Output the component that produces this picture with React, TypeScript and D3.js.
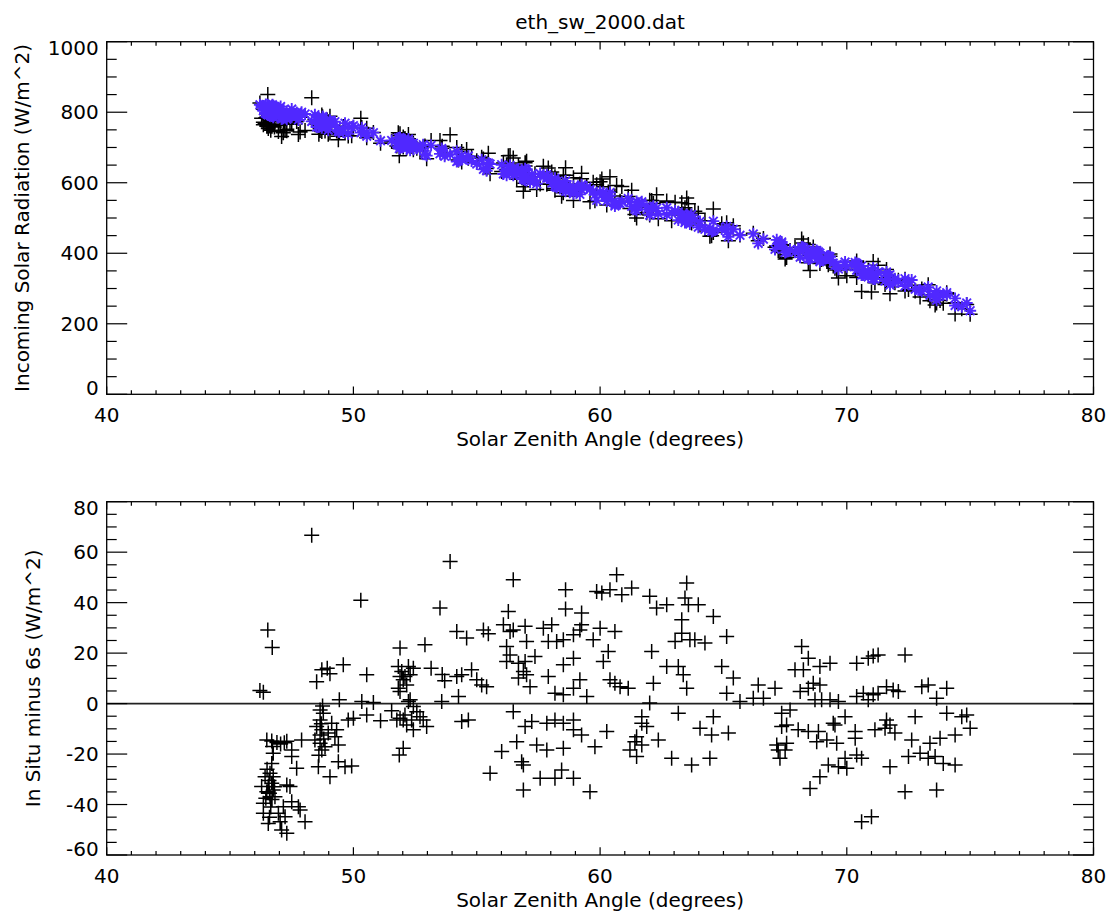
import React from "react";
import * as d3 from "d3";

// Solar zenith angle (degrees) of each matched sample
const sza: number[] = [
  46.21,46.35,46.53,46.71,46.49,46.69,46.90,47.05,47.30,47.50,
  47.50,47.70,46.75,46.69,46.62,46.75,46.42,46.28,46.55,46.75,
  46.62,46.35,46.82,46.49,46.69,47.30,47.43,47.50,47.77,47.84,
  46.55,47.03,47.09,47.30,47.23,48.04,46.96,46.35,47.16,47.90,
  46.60,46.70,46.45,46.80,46.58,46.65,46.50,46.72,47.20,46.60,
  48.31,50.30,48.51,48.72,48.94,49.05,49.59,50.54,49.43,50.34,
  50.81,48.65,48.78,48.65,48.51,48.72,48.65,48.44,48.65,48.72,
  48.85,48.58,48.98,49.12,49.32,49.25,49.39,49.05,49.39,49.66,
  49.93,50.54,50.00,49.79,48.70,48.60,48.80,48.75,
  51.10,51.55,51.76,52.02,51.86,52.02,51.89,51.82,51.96,52.09,
  52.30,52.23,52.02,52.43,51.89,52.16,51.82,51.89,52.30,52.23,
  52.43,52.57,52.70,52.83,52.97,52.43,52.16,52.09,51.89,52.36,
  52.90,53.15,53.60,53.70,53.58,53.92,53.51,
  54.19,54.59,55.27,55.47,54.19,54.26,54.79,55.00,55.20,55.40,
  54.39,54.39,54.66,56.48,56.28,56.08,56.35,56.48,56.96,57.02,
  56.21,56.35,56.21,56.69,56.96,57.36,56.89,57.02,56.69,57.16,
  57.70,58.04,57.90,58.24,58.51,58.60,58.60,57.90,58.51,58.17,
  58.51,56.48,56.96,57.23,57.84,58.17,58.51,56.62,56.01,57.43,
  57.84,58.51,56.82,56.89,55.54,56.89,57.57,58.17,58.44,
  59.25,59.18,58.92,59.86,60.07,60.40,60.67,60.88,61.28,60.00,
  60.60,59.72,60.33,60.13,58.92,59.18,58.92,59.46,60.40,60.81,
  61.14,60.60,59.25,58.92,58.92,59.25,60.27,59.79,58.92,59.59,
  62.01,62.29,62.70,63.51,63.44,63.58,63.98,64.59,63.31,63.31,
  63.04,63.64,63.84,64.25,62.09,62.70,63.17,63.37,63.51,62.16,
  62.01,61.69,61.89,61.48,61.41,61.21,61.48,61.69,61.69,62.36,
  63.17,64.59,64.05,64.52,62.90,63.71,64.45,64.93,65.13,65.13,
  65.20,65.40,65.67,
  66.21,66.41,66.62,67.09,68.17,68.44,67.90,68.24,68.91,69.32,
  68.11,68.44,68.64,68.91,68.71,68.98,69.32,69.66,67.36,67.70,
  67.36,67.56,68.03,68.44,68.85,69.19,69.59,67.16,67.56,67.22,
  67.50,67.29,68.78,69.52,69.93,69.45,69.25,69.66,69.93,70.00,
  68.91,68.51,70.40,70.87,71.07,71.27,72.36,70.40,70.67,70.87,
  71.07,71.27,71.61,71.88,72.09,73.04,73.30,73.64,74.05,71.61,
  71.75,71.55,71.95,71.14,70.34,70.34,72.77,74.05,74.66,74.86,
  75.00,74.39,72.63,73.37,73.78,70.40,70.60,71.75,72.50,72.97,
  73.30,73.58,73.91,74.39,72.36,73.64,70.60,71.00,
];

// In situ minus 6s (W/m^2)
const diff: number[] = [
  5.2,4.5,29.2,22.2,-14.4,-14.8,-15.4,-16.0,-14.9,-18.4,
  -21.0,-25.6,-19.7,-23.7,-27.6,-29.0,-29.0,-32.9,-32.9,-34.2,
  -36.9,-39.5,-36.9,-34.9,-31.6,-32.3,-32.9,-38.9,-40.9,-42.2,
  -47.5,-46.8,-50.1,-51.4,-44.8,-46.8,-43.5,-43.5,-40.9,-14.4,
  -35.5,-38.0,-37.5,-33.0,-30.5,-41.0,-26.0,-17.0,-15.5,-45.0,
  66.7,40.9,8.7,13.4,14.0,11.8,15.4,11.4,1.5,0.8,
  0.4,-2.5,-3.8,-6.5,-9.1,-10.4,-12.4,-14.4,-15.7,-18.4,
  -17.1,-25.0,-11.7,-7.8,-10.4,-13.1,-16.4,-29.0,-23.0,-25.0,
  -24.7,-4.5,-5.8,-6.5,-8.0,-20.5,-14.0,-1.0,
  -6.8,-2.8,-6.5,-6.5,-20.4,-17.7,22.0,14.7,12.7,10.7,
  11.4,14.7,9.4,14.0,10.7,7.4,6.1,4.8,1.5,0.8,
  -1.2,-3.2,-5.2,-6.5,-9.1,-10.4,-8.5,-4.5,-5.8,-6.5,
  23.3,14.0,11.5,9.0,0.8,56.3,37.9,
  28.6,26.0,29.2,27.7,10.7,2.8,13.4,9.4,7.4,6.7,
  11.4,-7.1,-6.5,49.1,36.5,31.2,28.6,29.2,30.6,24.6,
  22.6,19.3,16.7,16.0,16.7,18.7,12.7,11.4,10.1,6.7,
  29.9,31.2,24.6,24.6,25.3,45.1,37.5,10.7,15.4,4.1,
  3.5,-3.2,-9.1,-7.1,-7.8,-6.5,-7.8,-15.1,-19.0,-16.4,
  -18.4,-17.7,-23.0,-24.3,-27.6,-34.2,-29.6,-29.6,-26.3,
  35.9,29.2,27.3,44.4,43.8,45.1,51.1,43.1,45.8,29.9,
  28.6,25.3,20.6,16.7,18.0,9.4,6.1,2.8,9.4,6.7,
  6.1,8.1,31.2,-6.5,-10.4,-12.4,-11.1,-17.1,-29.6,-34.9,
  42.5,37.9,39.2,47.8,41.8,39.2,39.2,34.5,33.2,27.9,
  24.6,25.3,25.3,24.0,20.6,14.7,14.7,11.4,6.1,8.1,
  0.2,-5.2,-9.1,-13.1,-15.1,-18.4,-21.0,-16.4,-7.8,-14.4,
  -3.8,-5.2,-9.8,-12.4,-21.7,-24.3,-21.7,14.7,26.6,4.1,
  -11.7,10.1,0.8,
  2.1,7.4,2.1,6.1,22.6,18.0,13.4,13.4,14.7,16.0,
  4.8,6.1,8.1,7.4,1.5,1.5,1.5,0.8,-3.8,-2.5,
  -9.1,-8.5,-10.4,-11.1,-11.1,-14.4,-15.7,-16.4,-15.7,-18.4,
  -18.4,-21.7,-15.1,-8.5,-5.2,-7.8,-24.3,-25.0,-21.7,-25.6,
  -29.0,-33.6,16.0,18.0,18.9,19.3,19.3,2.8,4.1,1.5,
  3.5,4.1,6.7,5.4,4.8,6.7,7.4,2.1,6.1,-6.5,
  -8.5,-9.8,-11.7,-10.4,-11.1,-13.7,-5.2,-3.8,-5.2,-4.5,
  -9.8,-12.4,-14.4,-15.7,-13.7,-20.4,-21.7,-25.0,-21.0,-19.7,
  -21.7,-21.0,-23.7,-24.3,-34.9,-34.2,-46.8,-44.8,
];

// 6s modelled incoming solar radiation (W/m^2), the blue band of the upper panel
const model6s: number[] = [
  821,804,821,792,810,789,807,816,786,792,
  787,799,786,812,802,815,798,816,792,818,
  814,804,816,795,807,780,799,809,778,786,
  801,810,781,803,793,795,789,815,783,800,
  815,798,822,791,809,790,813,821,787,806,
  774,742,758,779,764,777,744,743,744,756,
  742,767,784,761,778,756,779,793,764,771,
  764,785,749,772,757,773,748,770,745,769,
  758,732,762,739,775,758,776,788,
  719,720,711,722,697,719,711,727,701,715,
  692,722,720,698,728,697,718,699,712,724,
  695,701,694,708,677,712,706,722,703,710,
  681,706,692,675,697,680,682,
  660,668,638,656,689,662,662,653,665,634,
  677,666,676,621,640,625,649,641,617,636,
  624,637,621,634,640,607,624,617,639,602,
  617,599,617,587,597,576,605,614,586,613,
  580,635,608,624,623,590,592,625,651,597,
  614,589,637,613,653,610,626,608,588,
  591,567,587,550,567,572,541,546,533,573,
  534,576,553,572,573,584,570,588,564,541,
  555,539,580,569,590,594,548,566,579,581,
  508,528,509,509,487,501,474,491,510,495,
  520,483,494,468,529,529,494,500,492,533,
  508,539,524,547,525,545,521,546,540,512,
  517,464,490,462,514,510,470,469,460,476,
  447,468,451,
  455,428,440,411,418,407,403,416,376,382,
  389,404,410,379,392,381,390,355,428,410,
  432,405,411,384,404,391,368,438,404,426,
  402,427,408,366,367,372,392,355,375,362,
  400,385,362,333,358,347,307,371,340,350,
  328,344,347,315,319,292,303,267,282,327,
  339,321,328,327,374,368,298,288,248,259,
  237,272,324,281,280,352,364,310,318,296,
  304,274,282,252,328,293,338,335,
];

const insitu: number[] = model6s.map((m, i) => m + diff[i]);

const titleText = "eth_sw_2000.dat";
const xTitle = "Solar Zenith Angle (degrees)";
const topYTitle = "Incoming Solar Radiation (W/m^2)";
const botYTitle = "In Situ minus 6s (W/m^2)";
const xTicks = [40, 50, 60, 70, 80];
const topYTicks = [0, 200, 400, 600, 800, 1000];
const botYTicks = [-60, -40, -20, 0, 20, 40, 60, 80];

const W = 1109;
const H = 911;
const FONT = "'DejaVu Sans', sans-serif";
const FS = 20;
const X0 = 106.7;
const X1 = 1093.5;
const BLUE = "#5028ff";

const x = d3.scaleLinear().domain([40, 80]).range([X0, X1]);
const xMinor = d3.range(40, 81, 1).filter((v) => v % 10 !== 0);

type PanelProps = {
  y: d3.ScaleLinear<number, number>;
  yTicks: number[];
  yMinorStep: number;
  yTitle: string;
  yTitleX: number;
  children?: React.ReactNode;
};

function Panel({ y, yTicks, yMinorStep, yTitle, yTitleX, children }: PanelProps) {
  const [d0, d1] = y.domain();
  const top = y(d1);
  const bot = y(d0);
  const yMinor = d3.range(d0, d1 + 0.001, yMinorStep).filter((v) => !yTicks.includes(v));
  const majX = 7.7, minX = 4, majY = 20.5, minY = 10;
  const midY = (top + bot) / 2;
  return (
    <g>
      {children}
      <rect x={X0} y={top} width={X1 - X0} height={bot - top} fill="none" stroke="#000" strokeWidth={1.3} />
      {xTicks.map((t) => (
        <g key={"xm" + t}>
          <line x1={x(t)} x2={x(t)} y1={bot} y2={bot - majX} stroke="#000" strokeWidth={1.2} />
          <line x1={x(t)} x2={x(t)} y1={top} y2={top + majX} stroke="#000" strokeWidth={1.2} />
          <text x={x(t)} y={bot + 28} textAnchor="middle" fontFamily={FONT} fontSize={FS}>{t}</text>
        </g>
      ))}
      {xMinor.map((t) => (
        <g key={"xn" + t}>
          <line x1={x(t)} x2={x(t)} y1={bot} y2={bot - minX} stroke="#000" strokeWidth={1.2} />
          <line x1={x(t)} x2={x(t)} y1={top} y2={top + minX} stroke="#000" strokeWidth={1.2} />
        </g>
      ))}
      {yTicks.map((t, i) => (
        <g key={"ym" + t}>
          <line x1={X0} x2={X0 + majY} y1={y(t)} y2={y(t)} stroke="#000" strokeWidth={1.2} />
          <line x1={X1} x2={X1 - majY} y1={y(t)} y2={y(t)} stroke="#000" strokeWidth={1.2} />
          <text
            x={X0 - 8}
            y={y(t) + 7 + (i === yTicks.length - 1 ? 6 : 0) + (i === 0 ? -6 : 0)}
            textAnchor="end"
            fontFamily={FONT}
            fontSize={FS}
          >
            {t}
          </text>
        </g>
      ))}
      {yMinor.map((t) => (
        <g key={"yn" + t}>
          <line x1={X0} x2={X0 + minY} y1={y(t)} y2={y(t)} stroke="#000" strokeWidth={1.2} />
          <line x1={X1} x2={X1 - minY} y1={y(t)} y2={y(t)} stroke="#000" strokeWidth={1.2} />
        </g>
      ))}
      <text x={(X0 + X1) / 2} y={bot + 52} textAnchor="middle" fontFamily={FONT} fontSize={FS}>
        {xTitle}
      </text>
      <text
        transform={`translate(${yTitleX},${midY}) rotate(-90)`}
        textAnchor="middle"
        fontFamily={FONT}
        fontSize={FS}
      >
        {yTitle}
      </text>
    </g>
  );
}

function crossPath(cx: number, cy: number, r = 7.5) {
  return `M${cx - r},${cy}H${cx + r}M${cx},${cy - r}V${cy + r}`;
}

function starPath(cx: number, cy: number, r = 6) {
  const d = r * 0.72;
  return `M${cx - r},${cy}H${cx + r}M${cx},${cy - r}V${cy + r}M${cx - d},${cy - d}L${cx + d},${cy + d}M${cx - d},${cy + d}L${cx + d},${cy - d}`;
}

export default function App() {
  const yTop = d3.scaleLinear().domain([0, 1000]).range([394.3, 41.7]);
  const yBot = d3.scaleLinear().domain([-60, 80]).range([855, 501.7]);

  const topCross = sza.map((s, i) => crossPath(x(s), yTop(insitu[i]))).join("");
  const topStar = sza.map((s, i) => starPath(x(s), yTop(model6s[i]))).join("");
  const botCross = sza.map((s, i) => crossPath(x(s), yBot(diff[i]))).join("");

  return (
    <div style={{ position: "absolute", left: 0, top: 0 }}>
      <svg width={W} height={H} viewBox={`0 0 ${W} ${H}`} style={{ display: "block", background: "#fff" }}>
        <rect x={0} y={0} width={W} height={H} fill="#fff" />
        <text x={(X0 + X1) / 2} y={29} textAnchor="middle" fontFamily={FONT} fontSize={FS}>
          {titleText}
        </text>
        <Panel y={yTop} yTicks={topYTicks} yMinorStep={50} yTitle={topYTitle} yTitleX={29}>
          <path d={topCross} stroke="#000" strokeWidth={1.5} fill="none" />
          <path d={topStar} stroke={BLUE} strokeWidth={1.9} fill="none" />
        </Panel>
        <Panel y={yBot} yTicks={botYTicks} yMinorStep={5} yTitle={botYTitle} yTitleX={40}>
          <line x1={X0} x2={X1} y1={yBot(0)} y2={yBot(0)} stroke="#222" strokeWidth={1.8} />
          <path d={botCross} stroke="#000" strokeWidth={1.5} fill="none" />
        </Panel>
      </svg>
    </div>
  );
}
